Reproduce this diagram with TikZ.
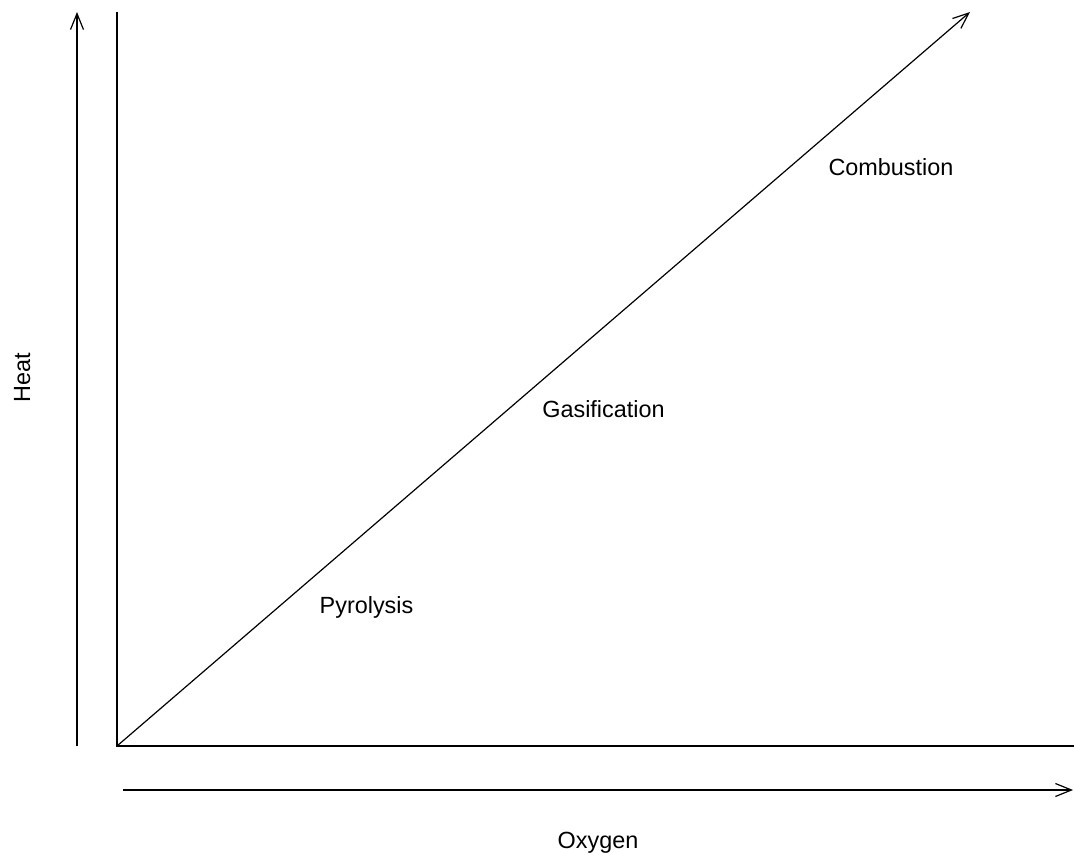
\documentclass[tikz,border=0pt]{standalone}
\usepackage{fontspec}
\setmainfont{Liberation Sans}
\usetikzlibrary{arrows.meta}
\begin{document}
\begin{tikzpicture}[x=1pt,y=-1pt,line width=1.2pt,
    >={Straight Barb[length=16pt,width=13pt,line width=1.2pt]},
    label/.style={font=\fontsize{23.4}{28}\selectfont,anchor=base,inner sep=0pt}]
    \useasboundingbox (0,0) rectangle (1074,853);
    \coordinate (o) at (117,746);
    \coordinate (ytop) at (117,12);
    \coordinate (xend) at (1074,746);
    \coordinate (diag) at (970,12);
    \coordinate (hbot) at (77,746);
    \coordinate (htop) at (77,12);
    \coordinate (obot) at (123,790);
    \coordinate (otop) at (1073,790);
    \draw (ytop) -- (o) -- (xend);
    \draw[->] (o) -- (diag);
    \draw[->] (hbot) -- (htop);
    \draw[->] (obot) -- (otop);
    \node[label](pyro) at (366.5,613){Pyrolysis};
    \node[label](gas) at (603.5,417){Gasification};
    \node[label](comb) at (891,176){Combustion};
    \node[label](oxy) at (598,848){Oxygen};
    \node[label,rotate=90](heat) at (30,378){Heat};
\end{tikzpicture}
\end{document}
